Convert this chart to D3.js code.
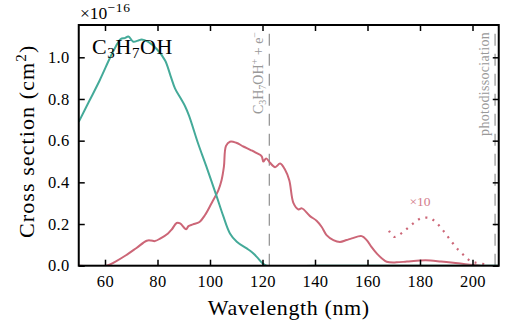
<!DOCTYPE html>
<html>
<head>
<meta charset="utf-8">
<script src="https://cdn.jsdelivr.net/npm/d3@7"></script>
<style>
  body { margin: 0; background: #fff; }
  svg { display: block; font-family: "Liberation Serif", "DejaVu Serif", serif; }
</style>
</head>
<body>
<div id="chart"></div>
<script>
// ********* C3H7OH photo cross sections *********

// total photoabsorption (teal), units of 1e-16 cm^2
var absWave = [50, 54, 58, 62, 64, 66, 67.5, 68.9, 70.8, 72.5, 74, 76.5, 79.7, 82.9, 85, 86.7, 89.2, 90.5,
  92, 95.5, 98.5, 102.6, 105, 107.6, 110.2, 114, 116, 118, 120, 121.5, 140, 210];
var absValue = [0.69, 0.79, 0.89, 1.0, 1.05, 1.088, 1.092, 1.1, 1.075, 1.08, 1.086, 1.074, 1.04, 0.985, 0.91, 0.85, 0.795, 0.765,
  0.72, 0.585, 0.48, 0.33, 0.24, 0.155, 0.115, 0.083, 0.065, 0.04, 0.012, 0, 0, 0];

// photoionisation (rose)
var ionWave = [50, 60.5, 64, 68, 72, 75.9, 77.5, 79, 81, 84, 85.5, 87.3, 88.6, 90.9, 91.8, 93.5, 96, 98.1,
  100.6, 103.2, 104.4, 105.3, 106.1, 107.6, 110, 112.7, 115.5, 117.8, 119.7, 120.3, 121.4, 122.8, 124.8,
  126.7, 128.6, 130.2, 131.8, 133.7, 135, 138.1, 140.6, 142.5, 144.4, 147, 149.5, 152, 154, 157.8, 159.7,
  161.5, 163.5, 165.5, 167.3, 171, 175, 180, 184, 188, 192.7, 196, 199, 203];
var ionValue = [0, 0, 0.02, 0.05, 0.085, 0.12, 0.121, 0.118, 0.13, 0.155, 0.175, 0.205, 0.203, 0.175, 0.19, 0.198, 0.21, 0.243,
  0.3, 0.363, 0.41, 0.475, 0.575, 0.595, 0.59, 0.572, 0.555, 0.54, 0.525, 0.5, 0.515, 0.495, 0.473,
  0.49, 0.46, 0.41, 0.3, 0.27, 0.275, 0.238, 0.216, 0.187, 0.147, 0.123, 0.114, 0.123, 0.131, 0.142, 0.123,
  0.09, 0.059, 0.035, 0.019, 0.016, 0.02, 0.025, 0.025, 0.02, 0.014, 0.009, 0.005, 0];

// long wavelength tail, scaled x10
var tailWave = [168.2, 170.1, 172.9, 175.2, 177.7, 180.3, 183.6, 186.1, 188.3, 190.2, 192.1, 194.1, 196.3, 198.7, 201.3, 204.5];
var tailValue = [0.168, 0.138, 0.155, 0.179, 0.205, 0.227, 0.229, 0.208, 0.177, 0.146, 0.114, 0.083, 0.055, 0.027, 0.014, 0.008];

// thresholds (nm)
var thresholdWave = [122.6, 208.6];
var thresholdLabel = ["ion", "photodissociation"];

var xTicks = [60, 80, 100, 120, 140, 160, 180, 200];
var yTicks = [0, 0.2, 0.4, 0.6, 0.8, 1.0];

var width = 525, height = 324;
var padLeft = 78.75, padRight = 498.75, padTop = 25, padBottom = 265.7;

var teal = "#44AA99", rose = "#CC6677", grey = "#999999";

var x = d3.scaleLinear().domain([50, 210]).range([padLeft, padRight]);
var y = d3.scaleLinear().domain([0, 1.155]).range([padBottom, padTop]);

var svg = d3.select("#chart").append("svg").attr("width", width).attr("height", height);

svg.append("clipPath").attr("id", "plot").append("rect")
  .attr("x", padLeft).attr("y", padTop).attr("width", padRight - padLeft).attr("height", padBottom - padTop);

function zip(xs, ys) {
  return xs.map(function (d, i) { return [d, ys[i]]; });
}

var line = d3.line()
  .x(function (d) { return x(d[0]); })
  .y(function (d) { return y(d[1]); })
  .curve(d3.curveCatmullRom.alpha(0.5));

var plot = svg.append("g").attr("clip-path", "url(#plot)");

// threshold lines, drawn bottom to top so the dash starts at the axis
thresholdWave.forEach(function (w) {
  plot.append("line")
    .attr("x1", x(w)).attr("x2", x(w))
    .attr("y1", padBottom).attr("y2", padTop)
    .attr("stroke", grey).attr("stroke-width", 1.3)
    .attr("stroke-dasharray", "12,8");
});

plot.append("path").datum(zip(ionWave, ionValue))
  .attr("d", line).attr("fill", "none").attr("stroke", rose).attr("stroke-width", 2);

plot.append("path").datum(zip(tailWave, tailValue))
  .attr("d", line).attr("fill", "none").attr("stroke", rose).attr("stroke-width", 2.2)
  .attr("stroke-dasharray", "2,5.6");

plot.append("path").datum(zip(absWave, absValue))
  .attr("d", line).attr("fill", "none").attr("stroke", teal).attr("stroke-width", 2);

// axes, ticks pointing in
var xb = svg.append("g").attr("transform", "translate(0," + padBottom + ")")
  .call(d3.axisBottom(x).tickValues(xTicks).tickSize(-6).tickPadding(10).tickFormat(d3.format("d")));
var xt = svg.append("g").attr("transform", "translate(0," + padTop + ")")
  .call(d3.axisTop(x).tickValues(xTicks).tickSize(-6).tickFormat(""));
var yl = svg.append("g").attr("transform", "translate(" + padLeft + ",0)")
  .call(d3.axisLeft(y).tickValues(yTicks).tickSize(-6).tickPadding(9).tickFormat(d3.format(".1f")));
var yr = svg.append("g").attr("transform", "translate(" + padRight + ",0)")
  .call(d3.axisRight(y).tickValues(yTicks).tickSize(-6).tickFormat(""));

[xb, xt, yl, yr].forEach(function (g) {
  g.attr("font-family", null).attr("font-size", 16.5);
  g.select(".domain").remove();
  g.selectAll(".tick line").attr("stroke", "#000").attr("stroke-width", 1.5);
  g.selectAll(".tick text").attr("fill", "#000").attr("letter-spacing", 0.4);
});

svg.append("rect")
  .attr("x", padLeft).attr("y", padTop).attr("width", padRight - padLeft).attr("height", padBottom - padTop)
  .attr("fill", "none").attr("stroke", "#000").attr("stroke-width", 2);

// labels
svg.append("text")
  .attr("x", (padLeft + padRight) / 2).attr("y", 315)
  .attr("text-anchor", "middle").attr("font-size", 22).attr("letter-spacing", 0.6)
  .text("Wavelength (nm)");

var yLab = svg.append("text")
  .attr("transform", "translate(34," + ((padTop + padBottom) / 2 - 4) + ") rotate(-90)")
  .attr("text-anchor", "middle").attr("font-size", 22).attr("letter-spacing", 1.1);
yLab.append("tspan").text("Cross section (cm");
yLab.append("tspan").attr("font-size", 15).attr("dy", -8).text("2");
yLab.append("tspan").attr("dy", 8).text(")");

var exp = svg.append("text").attr("x", 80).attr("y", 18.5).attr("font-size", 17.5);
exp.append("tspan").text("×10");
exp.append("tspan").attr("font-size", 13.5).attr("dy", -7).attr("letter-spacing", 0.8).text("−16");

var title = svg.append("text").attr("x", 92).attr("y", 54).attr("font-size", 22).attr("letter-spacing", 0.6);
title.append("tspan").text("C");
title.append("tspan").attr("font-size", 15).attr("dy", 4).text("3");
title.append("tspan").attr("dy", -4).text("H");
title.append("tspan").attr("font-size", 15).attr("dy", 4).text("7");
title.append("tspan").attr("dy", -4).text("OH");

// threshold annotations
var ionText = svg.append("text")
  .attr("transform", "translate(" + (x(thresholdWave[0]) - 6) + "," + (padTop + 7) + ") rotate(-90)")
  .attr("text-anchor", "end").attr("font-size", 14).attr("fill", grey);
ionText.append("tspan").text("C");
ionText.append("tspan").attr("font-size", 10).attr("dy", 3).text("3");
ionText.append("tspan").attr("dy", -3).text("H");
ionText.append("tspan").attr("font-size", 10).attr("dy", 3).text("7");
ionText.append("tspan").attr("dy", -3).text("OH");
ionText.append("tspan").attr("font-size", 10).attr("dy", -5).text("+");
ionText.append("tspan").attr("dy", 5).text(" + e");
ionText.append("tspan").attr("font-size", 10).attr("dy", -5).text("−");

svg.append("text")
  .attr("transform", "translate(" + (x(thresholdWave[1]) - 6) + "," + (padTop + 7) + ") rotate(-90)")
  .attr("text-anchor", "end").attr("font-size", 14).attr("fill", grey).attr("letter-spacing", 0.3)
  .text(thresholdLabel[1]);

svg.append("text")
  .attr("x", x(180)).attr("y", 206)
  .attr("text-anchor", "middle").attr("font-size", 13.5).attr("fill", rose).attr("opacity", 0.85)
  .text("×10");
</script>
</body>
</html>
